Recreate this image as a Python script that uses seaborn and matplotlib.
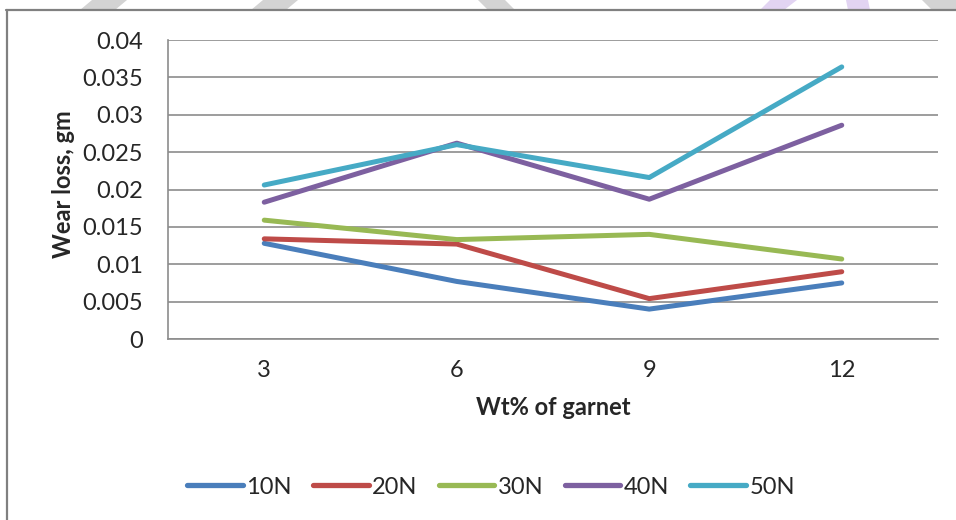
import pandas as pd
import numpy as np
import matplotlib.pyplot as plt
import seaborn as sns
from matplotlib.lines import Line2D
from matplotlib.patches import Polygon

categories = ["3", "6", "9", "12"]
loads = ["10N", "20N", "30N", "40N", "50N"]
wear_10n = [0.0128, 0.0077, 0.0040, 0.0075]
wear_20n = [0.0134, 0.0127, 0.0054, 0.0090]
wear_30n = [0.0159, 0.0133, 0.0140, 0.0107]
wear_40n = [0.0183, 0.0262, 0.0187, 0.0286]
wear_50n = [0.0206, 0.0260, 0.0216, 0.0364]
colors = ["#4A7EBB", "#BE4B48", "#98B954", "#7D60A0", "#46AAC5"]

rows = []
for load, vals in zip(loads, [wear_10n, wear_20n, wear_30n, wear_40n, wear_50n]):
    for i, v in enumerate(vals):
        rows.append({"pos": i, "load": load, "wear": v})
df = pd.DataFrame(rows)

sns.set_style("white")
plt.rcParams['font.family'] = ['Lato', 'DejaVu Sans']
FS = 17

W, H = 956, 520
fig = plt.figure(figsize=(W / 100, H / 100), dpi=100)
ax = fig.add_axes([168/W, 1-339/H, (938-168)/W, (339-40)/H])

sns.lineplot(data=df, x="pos", y="wear", hue="load", palette=colors,
             linewidth=3.6, ax=ax, legend=False, sort=False)
for line in ax.get_lines():
    line.set_solid_capstyle("round")
    line.set_solid_joinstyle("round")

ax.set_xlim(-0.5, 3.5)
ax.set_ylim(0, 0.04)
ax.set_yticks(np.arange(0, 0.0401, 0.005))
ax.set_yticklabels(["0", "0.005", "0.01", "0.015", "0.02", "0.025",
                    "0.03", "0.035", "0.04"])
ax.yaxis.grid(True, color="#8c8c8c", linewidth=1.2)
ax.set_axisbelow(True)

# category axis: tick marks between categories, labels at centres
ax.set_xticks(np.arange(-0.5, 3.6, 1.0))
ax.set_xticklabels([])
ax.set_xticks(np.arange(len(categories)), minor=True)
ax.set_xticklabels(categories, minor=True)
ax.tick_params(axis="x", which="major", direction="out", length=8,
               color="#8c8c8c", width=1.2)
ax.tick_params(axis="x", which="minor", length=0, pad=15, labelsize=FS)
ax.tick_params(axis="y", direction="out", length=7, color="#8c8c8c",
               width=1.2, pad=11, labelsize=FS)

for s in ["top", "right"]:
    ax.spines[s].set_visible(False)
for s in ["left", "bottom"]:
    ax.spines[s].set_color("#8c8c8c")
    ax.spines[s].set_linewidth(1.2)

ax.set_xlabel("Wt% of garnet", fontsize=FS, fontweight="bold")
ax.set_ylabel("Wear loss, gm", fontsize=FS, fontweight="bold")
ax.xaxis.set_label_coords(0.5, -0.192)
ax.yaxis.set_label_coords(-0.121, 0.518)

handles = [Line2D([], [], color=c, linewidth=3.8, solid_capstyle="round")
           for c in colors]
fig.legend(handles, loads, loc="center", bbox_to_anchor=(491/W, 1-487/H),
           ncol=5, frameon=False, fontsize=FS, handlelength=2.35,
           handletextpad=0.15, columnspacing=0.9)

# chart frame (top and left edges visible)
fig.add_artist(Line2D([7/W, 7/W], [0, 1-10/H], color="#808080",
                      linewidth=1.6, transform=fig.transFigure))
fig.add_artist(Line2D([6/W, 1], [1-10/H, 1-10/H], color="#808080",
                      linewidth=1.6, transform=fig.transFigure))

# faint page decoration above the frame
deco = [
    ([(80, 10), (115, 10), (127, 0), (92, 0)], "#d3d3d3"),
    ([(251, 10), (286, 10), (298, 0), (263, 0)], "#d3d3d3"),
    ([(488, 10), (515, 10), (505, 0), (478, 0)], "#d3d3d3"),
    ([(760, 10), (784, 10), (797, 0), (770, 0)], "#e2d4f2"),
    ([(848, 10), (870, 10), (868, 0), (846, 0)], "#e2d4f2"),
    ([(932, 10), (956, 10), (956, 0), (922, 0)], "#d3d3d3"),
]
for pts, col in deco:
    fig.add_artist(Polygon([(x / W, 1 - y / H) for x, y in pts], closed=True,
                           facecolor=col, edgecolor="none",
                           transform=fig.transFigure))

fig.savefig("out.png", dpi=100)
